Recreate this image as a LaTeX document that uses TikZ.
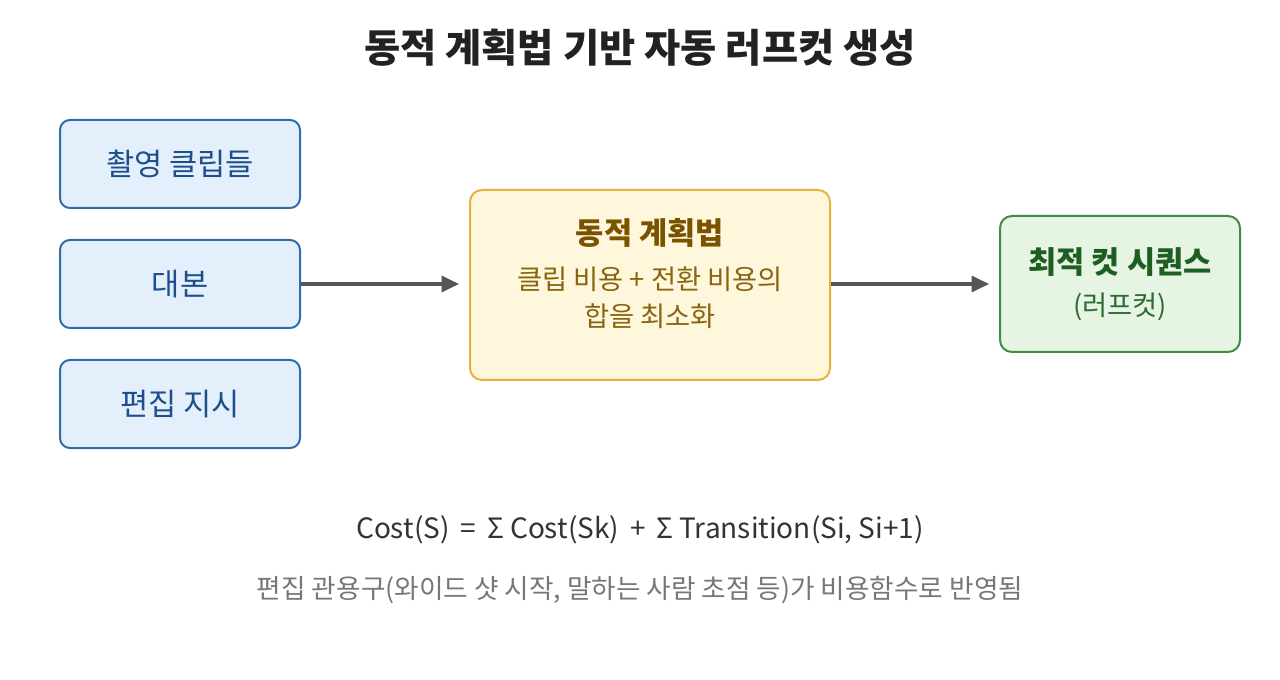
\documentclass[tikz,border=0pt]{standalone}
\usepackage{fontspec}
\setmainfont{Noto Sans CJK KR}
\usetikzlibrary{arrows.meta}
\definecolor{bluefill}{HTML}{E3F0FB}
\definecolor{bluedraw}{HTML}{2F6DA8}
\definecolor{bluetext}{HTML}{1F4E8C}
\definecolor{yelfill}{HTML}{FFF7DB}
\definecolor{yeldraw}{HTML}{E5B33E}
\definecolor{yeltitle}{HTML}{7A5300}
\definecolor{yeltext}{HTML}{8A6410}
\definecolor{grnfill}{HTML}{E6F4E3}
\definecolor{grndraw}{HTML}{3F8C42}
\definecolor{grntitle}{HTML}{1E5E21}
\definecolor{grntext}{HTML}{2E6B30}
\definecolor{arrowc}{HTML}{555555}
\definecolor{titlec}{HTML}{222222}
\definecolor{formc}{HTML}{333333}
\definecolor{notec}{HTML}{777777}
\tikzset{
  px/.style={x=0.75pt,y=-0.75pt},
  inbox/.style={draw=bluedraw,fill=bluefill,line width=1.5pt,rounded corners=7.5pt,
    minimum width=180pt,minimum height=66pt,inner sep=0pt,text=bluetext,font=\fontsize{23}{26}\selectfont},
  midbox/.style={draw=yeldraw,fill=yelfill,line width=1.5pt,rounded corners=9pt,
    minimum width=270pt,minimum height=142.5pt,inner sep=0pt},
  outbox/.style={draw=grndraw,fill=grnfill,line width=1.5pt,rounded corners=9pt,
    minimum width=180pt,minimum height=102pt,inner sep=0pt},
  conn/.style={draw=arrowc,line width=2.4pt,-{Triangle[length=13pt,width=12pt]},shorten >=7.5pt},
  lbl/.style={inner sep=0pt,anchor=center}
}
\begin{document}
\begin{tikzpicture}[px]
\useasboundingbox (0,0) rectangle (1280,680);
\fill[white] (0,0) rectangle (1280,680);
\node[lbl,text=titlec,font=\fontsize{29.5}{32}\selectfont\bfseries] (title) at (640,48) {동적 계획법 기반 자동 러프컷 생성};
\node[inbox] (clips) at (180,164) {촬영 클립들};
\node[inbox] (script) at (180,284) {대본};
\node[inbox] (instr) at (180,404) {편집 지시};
\node[midbox] (dp) at (650,285) {};
\node[lbl,text=yeltitle,font=\fontsize{23}{26}\selectfont\bfseries] (dpt) at (650,233) {동적 계획법};
\node[lbl,text=yeltext,font=\fontsize{20.5}{24}\selectfont] (dp1) at (650,279) {클립 비용 + 전환 비용의};
\node[lbl,text=yeltext,font=\fontsize{20.5}{24}\selectfont] (dp2) at (650,316) {합을 최소화};
\node[outbox] (out) at (1120,284) {};
\node[lbl,text=grntitle,font=\fontsize{23}{26}\selectfont\bfseries] (outt) at (1120,262) {최적 컷 시퀀스};
\node[lbl,text=grntext,font=\fontsize{20.5}{24}\selectfont] (out1) at (1120,307) {(러프컷)};
\draw[conn] (script.east) -- (dp.west |- script.east);
\draw[conn] (dp.east |- out.west) -- (out.west);
\node[lbl,text=formc,font=\fontsize{21}{24}\selectfont] (formula) at (640,530) {Cost(S) \,=\, Σ Cost(Sk) \,+\, Σ Transition(Si, Si+1)};
\node[lbl,text=notec,font=\fontsize{20}{24}\selectfont] (note) at (640,590) {편집 관용구(와이드 샷 시작, 말하는 사람 초점 등)가 비용함수로 반영됨};
\end{tikzpicture}
\end{document}
